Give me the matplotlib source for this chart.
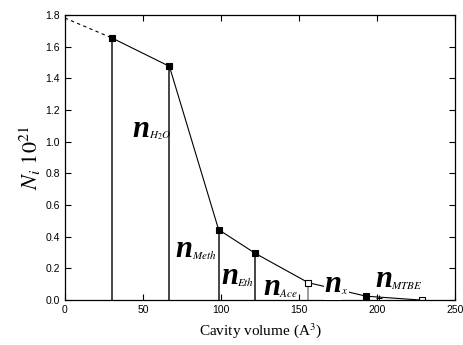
import numpy as np
import matplotlib.pyplot as plt

plt.rcParams['mathtext.fontset'] = 'stix'

# data
vol = [30, 67, 98.5, 122, 156, 193, 229]
n_i = [1.655, 1.475, 0.445, 0.295, 0.11, 0.025, 0.0]
filled = [True, True, True, True, False, True, False]
stems = [30, 67, 98.5, 122, 156]
extrap_x = [0, 30]
extrap_y = [1.78, 1.655]
extra_x = [201]
extra_y = [0.012]

labels = [r'H_{2}O', 'Meth', 'Eth', 'Ace', 'x', 'MTBE']
label_x = [43.5, 71, 100, 127, 166.5, 198.7]
label_y = [1.03, 0.27, 0.105, 0.03, 0.052, 0.084]

fig = plt.figure(figsize=(4.63, 3.45), dpi=100)
ax = fig.add_axes([0.140, 0.130, 0.843, 0.827])

ax.plot(extrap_x, extrap_y, color='k', lw=0.8, ls=(0, (3, 3)))
ax.plot(vol, n_i, color='k', lw=0.8)
for x, y in zip(stems, n_i):
    c = '0.55' if x > 150 else '0.15'
    ax.plot([x, x], [0, y], color=c, lw=1.2)
for x, y, f in zip(vol, n_i, filled):
    ax.plot(x, y, marker='s', ms=4.5, mec='k', mfc='k' if f else 'white', mew=0.8)
ax.plot(extra_x, extra_y, marker='+', ms=5, color='k', mew=0.7, ls='none')

for lab, x, y in zip(labels, label_x, label_y):
    bg = dict(facecolor='white', edgecolor='none', pad=0.5) if lab == 'x' else None
    ax.text(x, y, 'n', fontsize=22, family='Liberation Serif', style='italic',
            fontweight='bold', ha='left', va='baseline', bbox=bg, zorder=5)
    ax.annotate(r'$\mathbf{\mathit{%s}}$' % lab, xy=(x, y), xytext=(11.5, -1.5),
                textcoords='offset points', fontsize=8, ha='left', va='baseline',
                bbox=bg, zorder=5)

ax.set_xlim(0, 250)
ax.set_ylim(0, 1.8)
ax.set_xticks([0, 50, 100, 150, 200, 250])
ax.set_yticks(np.arange(0, 1.81, 0.2))
ax.set_yticklabels(['%.1f' % v for v in np.arange(0, 1.81, 0.2)])
ax.tick_params(direction='in', top=True, right=True, labelsize=7.5, length=4)
for lbl in ax.get_xticklabels() + ax.get_yticklabels():
    lbl.set_family('Liberation Sans')
for s in ax.spines.values():
    s.set_linewidth(0.9)

ax.set_xlabel(r'Cavity volume (A$^3$)', family='Liberation Serif', fontsize=11)
ax.set_ylabel(r'$N_i\ \mathrm{10}^{21}$', fontsize=16, labelpad=2)

fig.savefig('out.png', dpi=100)
